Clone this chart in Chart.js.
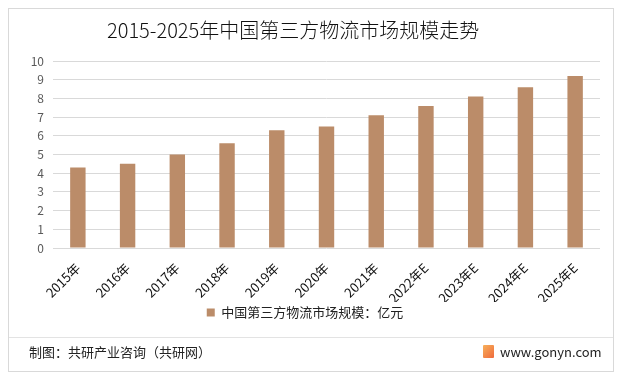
<!DOCTYPE html>
<html><head><meta charset="utf-8">
<script src="https://cdn.jsdelivr.net/npm/chart.js@4.4.1/dist/chart.umd.min.js"></script>
<style>
html,body{margin:0;padding:0;background:#fff;}
#wrap{position:relative;width:621px;height:379px;overflow:hidden;font-family:"Noto Sans CJK SC","Noto Sans",sans-serif;}
#frame{position:absolute;left:8px;top:8px;width:606px;height:364px;border:1px solid #d9d9d9;box-sizing:border-box;}
#title{position:absolute;left:107px;top:15px;font-size:20px;color:#111;white-space:nowrap;font-weight:300;}
#sep{position:absolute;left:9px;width:604px;top:337px;height:1px;background:#e3e3e3;}
#src{position:absolute;left:29px;top:342px;font-size:13px;color:#222;white-space:nowrap;}
#site{position:absolute;left:500px;top:342px;font-size:13px;color:#222;white-space:nowrap;}
#logo{position:absolute;left:483px;top:345px;width:11px;height:13px;background:linear-gradient(135deg,#f7b05a,#ef6a3c);border-radius:1px;}
canvas{position:absolute;left:0;top:0;}
</style></head>
<body><div id="wrap">
<div id="frame"></div>
<canvas id="c" width="621" height="379"></canvas>
<div id="title">2015-2025年中国第三方物流市场规模走势</div>
<div id="sep"></div>
<div id="src">制图：共研产业咨询（共研网）</div>
<div id="logo"></div>
<div id="site">www.gonyn.com</div>
</div>
<script>
const categories = ['2015年','2016年','2017年','2018年','2019年','2020年','2021年','2022年E','2023年E','2024年E','2025年E'];
const seriesName = '中国第三方物流市场规模：亿元';
const marketSize = [4.3, 4.5, 5.0, 5.6, 6.3, 6.5, 7.1, 7.6, 8.1, 8.6, 9.2];
const yMin = 0, yMax = 10, yStep = 1;

const FONT = '"Noto Sans CJK SC","Noto Sans",sans-serif';
new Chart(document.getElementById('c'), {
  type: 'bar',
  data: {
    labels: categories,
    datasets: [{
      label: seriesName,
      data: marketSize,
      backgroundColor: '#BB8C69',
      borderWidth: 0,
      categoryPercentage: 1,
      barPercentage: 0.31
    }]
  },
  options: {
    responsive: false,
    animation: false,
    devicePixelRatio: 1,
    layout: { padding: { left: 10, right: 21, top: 61, bottom: 50 } },
    plugins: {
      title: { display: false },
      tooltip: { enabled: false },
      legend: {
        display: true,
        position: 'bottom',
        labels: {
          boxWidth: 8, boxHeight: 8, padding: 4,
          color: '#222',
          font: { family: FONT, size: 13 }
        }
      }
    },
    scales: {
      x: {
        grid: { display: false },
        border: { display: false },
        ticks: {
          minRotation: 45, maxRotation: 45, padding: 4,
          color: '#111',
          font: { family: FONT, size: 13 }
        },
        afterFit: (s) => { s.height = 54; }
      },
      y: {
        min: yMin, max: yMax,
        grid: { color: '#d9d9d9', drawTicks: false },
        border: { display: false },
        ticks: {
          stepSize: yStep, padding: 9,
          color: '#595959',
          font: { family: FONT, size: 12 }
        },
        afterFit: (s) => { s.width = 43; }
      }
    }
  }
});
</script>
</body></html>
